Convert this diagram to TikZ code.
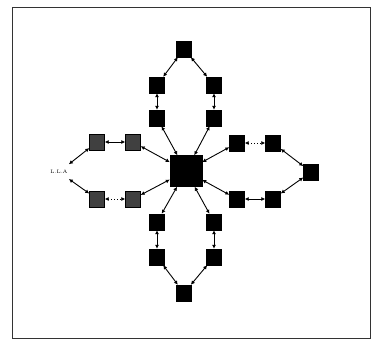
\documentclass[tikz,border=0pt]{standalone}
\usetikzlibrary{arrows.meta}

\tikzset{
    unit/.style={draw=black, fill=black, minimum width=15pt, minimum height=16pt, inner sep=0pt},
    softunit/.style={unit, fill=black!75},
    hub/.style={draw=black, fill=black, minimum width=32pt, minimum height=31pt, inner sep=0pt},
    link/.style={line width=0.9pt, {Latex[length=4pt,width=4pt]}-{Latex[length=4pt,width=4pt]}},
}

\begin{document}
\begin{tikzpicture}[x=1pt, y=-1pt]
    \useasboundingbox (0,0) rectangle (372,340);
    \draw[line width=1pt, black!80] (12,7) rectangle (370,338);
    % centre
    \node[hub] (H) at (186,171) {};
    % top loop
    \node[unit] (T) at (184,49) {};
    \node[unit] (TL1) at (157,85) {};
    \node[unit] (TL2) at (157,118) {};
    \node[unit] (TR1) at (214,85) {};
    \node[unit] (TR2) at (214,118) {};
    % bottom loop
    \node[unit] (B) at (184,293) {};
    \node[unit] (BL1) at (157,222) {};
    \node[unit] (BL2) at (157,257) {};
    \node[unit] (BR1) at (214,222) {};
    \node[unit] (BR2) at (214,257) {};
    % right loop
    \node[unit] (R) at (311,172) {};
    \node[unit] (RU1) at (237,143) {};
    \node[unit] (RU2) at (273,143) {};
    \node[unit] (RD1) at (237,199) {};
    \node[unit] (RD2) at (273,199) {};
    % left loop
    \node[inner sep=1pt, minimum width=14pt, minimum height=20pt, font=\fontsize{5}{5}\selectfont] (L) at (59,172) {L.L.A};
    \node[softunit] (LU1) at (133,142) {};
    \node[softunit] (LU2) at (97,142) {};
    \node[softunit] (LD1) at (133,199) {};
    \node[softunit] (LD2) at (97,199) {};

    \foreach \n in {TL2, TR2, RU1, RD1, BL1, BR1, LU1, LD1}
        \draw[link] (H) -- (\n);
    \draw[link] (TL2) -- (TL1);
    \draw[link] (TL1) -- (T);
    \draw[link] (T) -- (TR1);
    \draw[link] (TR1) -- (TR2);
    \draw[link] (BL1) -- (BL2);
    \draw[link] (BL2) -- (B);
    \draw[link] (B) -- (BR2);
    \draw[link] (BR2) -- (BR1);
    \draw[link, dotted] (RU1) -- (RU2);
    \draw[link] (RU2) -- (R);
    \draw[link] (R) -- (RD2);
    \draw[link] (RD2) -- (RD1);
    \draw[link] (LU1) -- (LU2);
    \draw[link] (LU2) -- (L);
    \draw[link] (L) -- (LD2);
    \draw[link, dotted] (LD2) -- (LD1);
\end{tikzpicture}
\end{document}
